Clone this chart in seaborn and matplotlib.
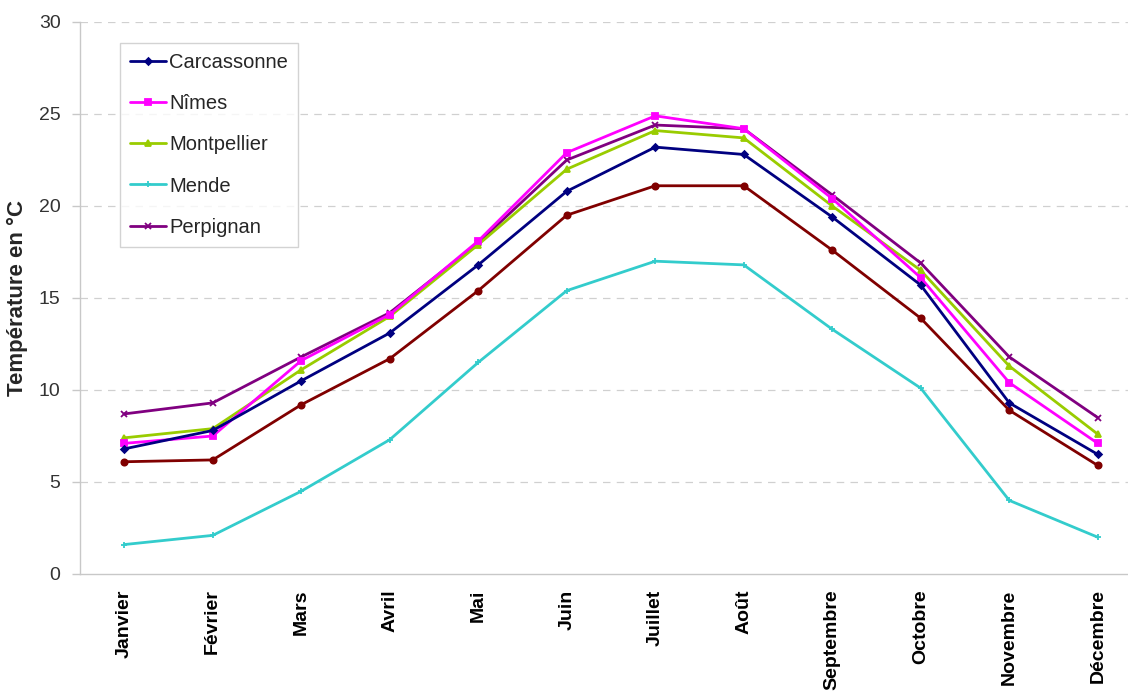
import numpy as np
import pandas as pd
import matplotlib
matplotlib.use("Agg")
import matplotlib.pyplot as plt
import seaborn as sns

mois = ["Janvier", "Février", "Mars", "Avril", "Mai", "Juin", "Juillet",
        "Août", "Septembre", "Octobre", "Novembre", "Décembre"]

carcassonne = [6.8, 7.8, 10.5, 13.1, 16.8, 20.8, 23.2, 22.8, 19.4, 15.7, 9.3, 6.5]
nimes       = [7.1, 7.5, 11.6, 14.1, 18.1, 22.9, 24.9, 24.2, 20.4, 16.1, 10.4, 7.1]
montpellier = [7.4, 7.9, 11.1, 14.0, 17.9, 22.0, 24.1, 23.7, 20.0, 16.5, 11.3, 7.6]
mende       = [1.6, 2.1, 4.5, 7.3, 11.5, 15.4, 17.0, 16.8, 13.3, 10.1, 4.0, 2.0]
perpignan   = [8.7, 9.3, 11.8, 14.2, 18.0, 22.5, 24.4, 24.2, 20.6, 16.9, 11.8, 8.5]
serie_6     = [6.1, 6.2, 9.2, 11.7, 15.4, 19.5, 21.1, 21.1, 17.6, 13.9, 8.9, 5.9]

villes = ["Carcassonne", "Nîmes", "Montpellier", "Mende", "Perpignan"]
couleurs = {"Carcassonne": "#000080", "Nîmes": "#FF00FF", "Montpellier": "#99CC00",
            "Mende": "#33CCCC", "Perpignan": "#800080", "Série 6": "#800000"}
marqueurs = {"Carcassonne": "D", "Nîmes": "s", "Montpellier": "^",
             "Mende": "+", "Perpignan": "x", "Série 6": "o"}
tailles = {"Carcassonne": 3.5, "Nîmes": 4.5, "Montpellier": 4.5,
           "Mende": 5, "Perpignan": 5, "Série 6": 4.5}

donnees = {"Carcassonne": carcassonne, "Nîmes": nimes, "Montpellier": montpellier,
           "Mende": mende, "Perpignan": perpignan, "Série 6": serie_6}

sns.set_theme(style="white")
plt.rcParams["font.family"] = ["Liberation Sans", "DejaVu Sans"]

fig = plt.figure(figsize=(11.28, 6.95), dpi=100)
ax = fig.add_axes([80 / 1128, (695 - 574) / 695, 1062 / 1128, 552 / 695])

# tracé : la série 6 d'abord, puis les villes de la légende
ordre = ["Série 6"] + villes[::-1]
for nom in ordre:
    df = pd.DataFrame({"x": np.arange(len(mois)), "y": donnees[nom]})
    sns.lineplot(data=df, x="x", y="y", ax=ax, color=couleurs[nom],
                 marker=marqueurs[nom], markersize=tailles[nom],
                 markeredgecolor=couleurs[nom], markeredgewidth=1.3,
                 linewidth=2.0, label=nom if nom in villes else None,
                 legend=False)

ax.set_xlim(-0.5, 11.5)
ax.set_ylim(0, 30)
ax.set_yticks(np.arange(0, 31, 5))
ax.set_xticks(np.arange(len(mois)))
ax.set_xticklabels(mois, rotation=90, fontsize=14, fontweight="bold", color="black")
ax.set_xticks(np.arange(-0.5, 12, 1), minor=True)
ax.tick_params(axis="x", which="major", length=0, pad=11)
ax.tick_params(axis="x", which="minor", length=6, color="#c8c8c8", width=1)
ax.tick_params(axis="y", which="major", length=6, color="#c8c8c8", width=1,
               labelsize=14, labelcolor="#333333", pad=8, left=True)

for v in np.arange(5, 31, 5):
    ax.axhline(v, color="#d0d0d0", linestyle=(0, (6, 5)), linewidth=0.9, zorder=0)

for s in ["top", "right"]:
    ax.spines[s].set_visible(False)
for s in ["left", "bottom"]:
    ax.spines[s].set_color("#c8c8c8")
    ax.spines[s].set_linewidth(1)

ax.set_xlabel("")
ax.set_ylabel("Température en °C", fontsize=16, fontweight="bold", labelpad=8)

handles, labels = ax.get_legend_handles_labels()
h_map = dict(zip(labels, handles))
leg = ax.legend([h_map[v] for v in villes], villes, loc="upper left",
                bbox_to_anchor=(0.0377, 0.962), borderaxespad=0, fontsize=14.5,
                frameon=True, fancybox=False, edgecolor="#c8c8c8",
                labelspacing=1.1, handlelength=1.8, handletextpad=0.15,
                borderpad=0.5)
leg.get_frame().set_linewidth(1)

fig.savefig("out.png", dpi=100)
